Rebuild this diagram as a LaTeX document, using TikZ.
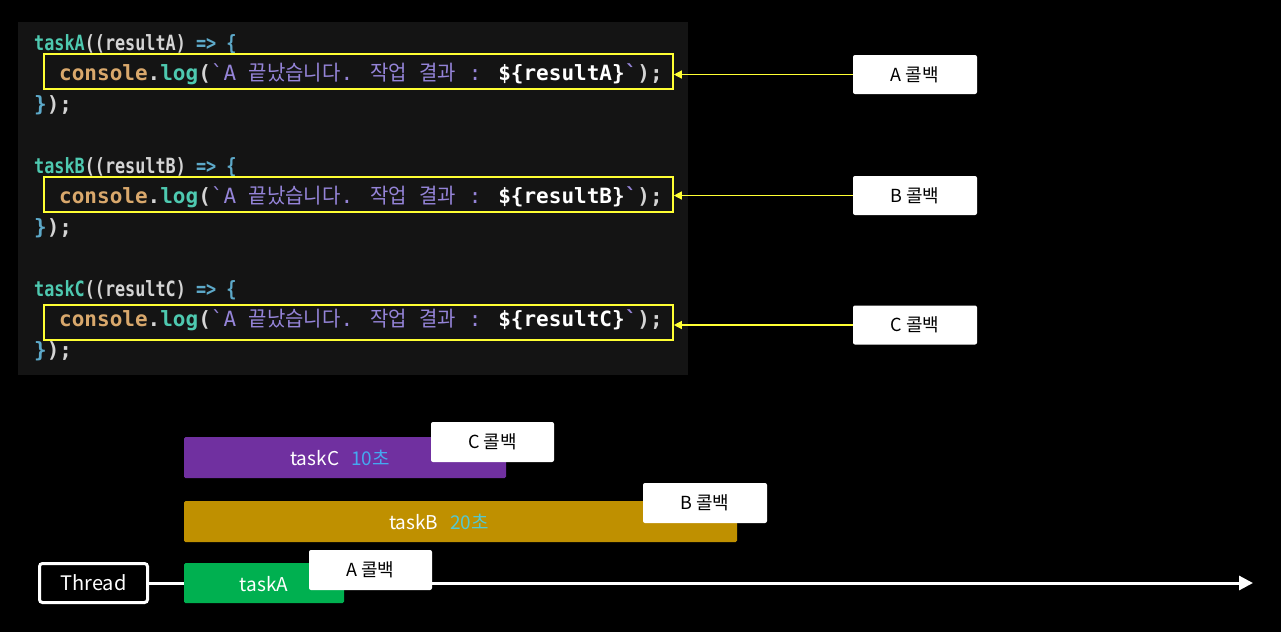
\documentclass[tikz,border=0pt]{standalone}
\usepackage{fontspec}
\usetikzlibrary{arrows.meta,positioning}
\setmainfont{Noto Sans CJK KR}
\newfontfamily\codefont{DejaVu Sans Mono}
\newfontfamily\krcode[FakeStretch=0.95]{Noto Sans CJK KR}

\definecolor{panel}{HTML}{141414}
\definecolor{cteal}{HTML}{4EC9B0}
\definecolor{cgray}{HTML}{D4D4D4}
\definecolor{cblue}{HTML}{5DA9C9}
\definecolor{ctan}{HTML}{D9A86C}
\definecolor{cpurple}{HTML}{9584D8}
\definecolor{cyel}{HTML}{FFFF33}
\definecolor{barC}{HTML}{7030A0}
\definecolor{barB}{HTML}{BF9000}
\definecolor{barA}{HTML}{00B050}
\definecolor{numC}{HTML}{45A8F0}
\definecolor{numB}{HTML}{55C8D0}

%lignes de code
\newcommand\taskline[1]{\scalebox{0.8}[1]{{\color{cteal}task#1}{\color{cgray}((result#1)} {\color{cblue}=> \{}}}
\newcommand\logline[1]{{\color{ctan}console}{\color{cgray}.}{\color{cteal}log}{\color{cgray}(}{\color{cpurple}\mdseries\symbol{96}A {\krcode 끝났습니다}. {\krcode 작업} {\krcode 결과} :} {\color{white}\$\{result#1\}}{\color{cpurple}\symbol{96}}{\color{cgray});}}
\newcommand\closeline{{\color{cblue}\}}{\color{cgray});}}

\tikzset{
  code/.style={anchor=base west, inner sep=0pt, font=\codefont\bfseries\fontsize{21}{21}\selectfont},
  ybox/.style={draw=cyel, line width=1.6pt, minimum width=629pt, minimum height=35pt, inner sep=0pt},
  cbbox/.style={fill=white, rounded corners=2pt, minimum width=124pt, minimum height=39pt, inner sep=0pt, text=black, font=\fontsize{18}{18}\selectfont},
  yarrow/.style={draw=cyel, line width=1.3pt, -{Triangle[length=8pt,width=8pt]}},
  bar/.style={rounded corners=1.5pt, inner sep=0pt, minimum height=41pt},
  bartext/.style={text=white, inner sep=0pt, font=\fontsize{19}{19}\selectfont},
  thread/.style={draw=white, fill=black, line width=3pt, rounded corners=3pt, minimum width=108pt, minimum height=39pt, text=white, font=\fontsize{20}{20}\selectfont},
  tline/.style={draw=white, line width=3pt, -{Triangle[length=14pt,width=14pt]}}
}

\begin{document}
\begin{tikzpicture}[x=1pt,y=-1pt]
%fond
\fill[black] (0,0) rectangle (1281,632);
\useasboundingbox (0,0) rectangle (1281,632);
\fill[panel] (18,22) rectangle (688,375);

%code
\node[code] (tA) at (34,50) {\taskline A};
\node[code] (lA) at (59,80.75) {\logline A};
\node[code] (eA) at (34,111.5) {\closeline};
\node[code] (tB) at (34,173) {\taskline B};
\node[code] (lB) at (59,203.75) {\logline B};
\node[code] (eB) at (34,234.5) {\closeline};
\node[code] (tC) at (34,296) {\taskline C};
\node[code] (lC) at (59,326.75) {\logline C};
\node[code] (eC) at (34,357.5) {\closeline};

%cadres jaunes
\node[ybox] (boxA) at (358.5,71.5) {};
\node[ybox] (boxB) at (358.5,194.5) {};
\node[ybox] (boxC) at (358.5,322.5) {};

%legende
\node[cbbox] (cbA) at (915,74.5) {A 콜백};
\node[cbbox] (cbB) at (915,195.5) {B 콜백};
\node[cbbox] (cbC) at (915,325) {C 콜백};
\draw[yarrow] (cbA.west) -- (boxA.east |- cbA.west);
\draw[yarrow] (cbB.west) -- (boxB.east |- cbB.west);
\draw[yarrow] (cbC.west) -- (boxC.east |- cbC.west);

%fil d'execution
\node[thread] (thr) at (93.5,583) {Thread};
\coordinate (tend) at (1253,583);
\draw[tline] (thr.east) -- (tend);

%taches
\node[bar, fill=barC, minimum width=322pt] (barC) at (345,457.5) {};
\node[bar, fill=barB, minimum width=553pt] (barB) at (460.5,521.5) {};
\node[bar, fill=barA, minimum width=160pt, minimum height=40pt] (barA) at (264,583) {};
\node[bartext] (lblC) at (340,458) {taskC\hspace{12pt}{\color{numC}10초}};
\node[bartext] (lblB) at (439,522) {taskB\hspace{12pt}{\color{numB}20초}};
\node[bartext] (lblA) at (264,584) {taskA};

%rappels
\node[cbbox, minimum width=123pt, minimum height=40pt] (rC) at (492.5,442) {C 콜백};
\node[cbbox, minimum height=40pt] (rB) at (705,503) {B 콜백};
\node[cbbox, minimum width=123pt, minimum height=40pt] (rA) at (370.5,570) {A 콜백};
\end{tikzpicture}
\end{document}
